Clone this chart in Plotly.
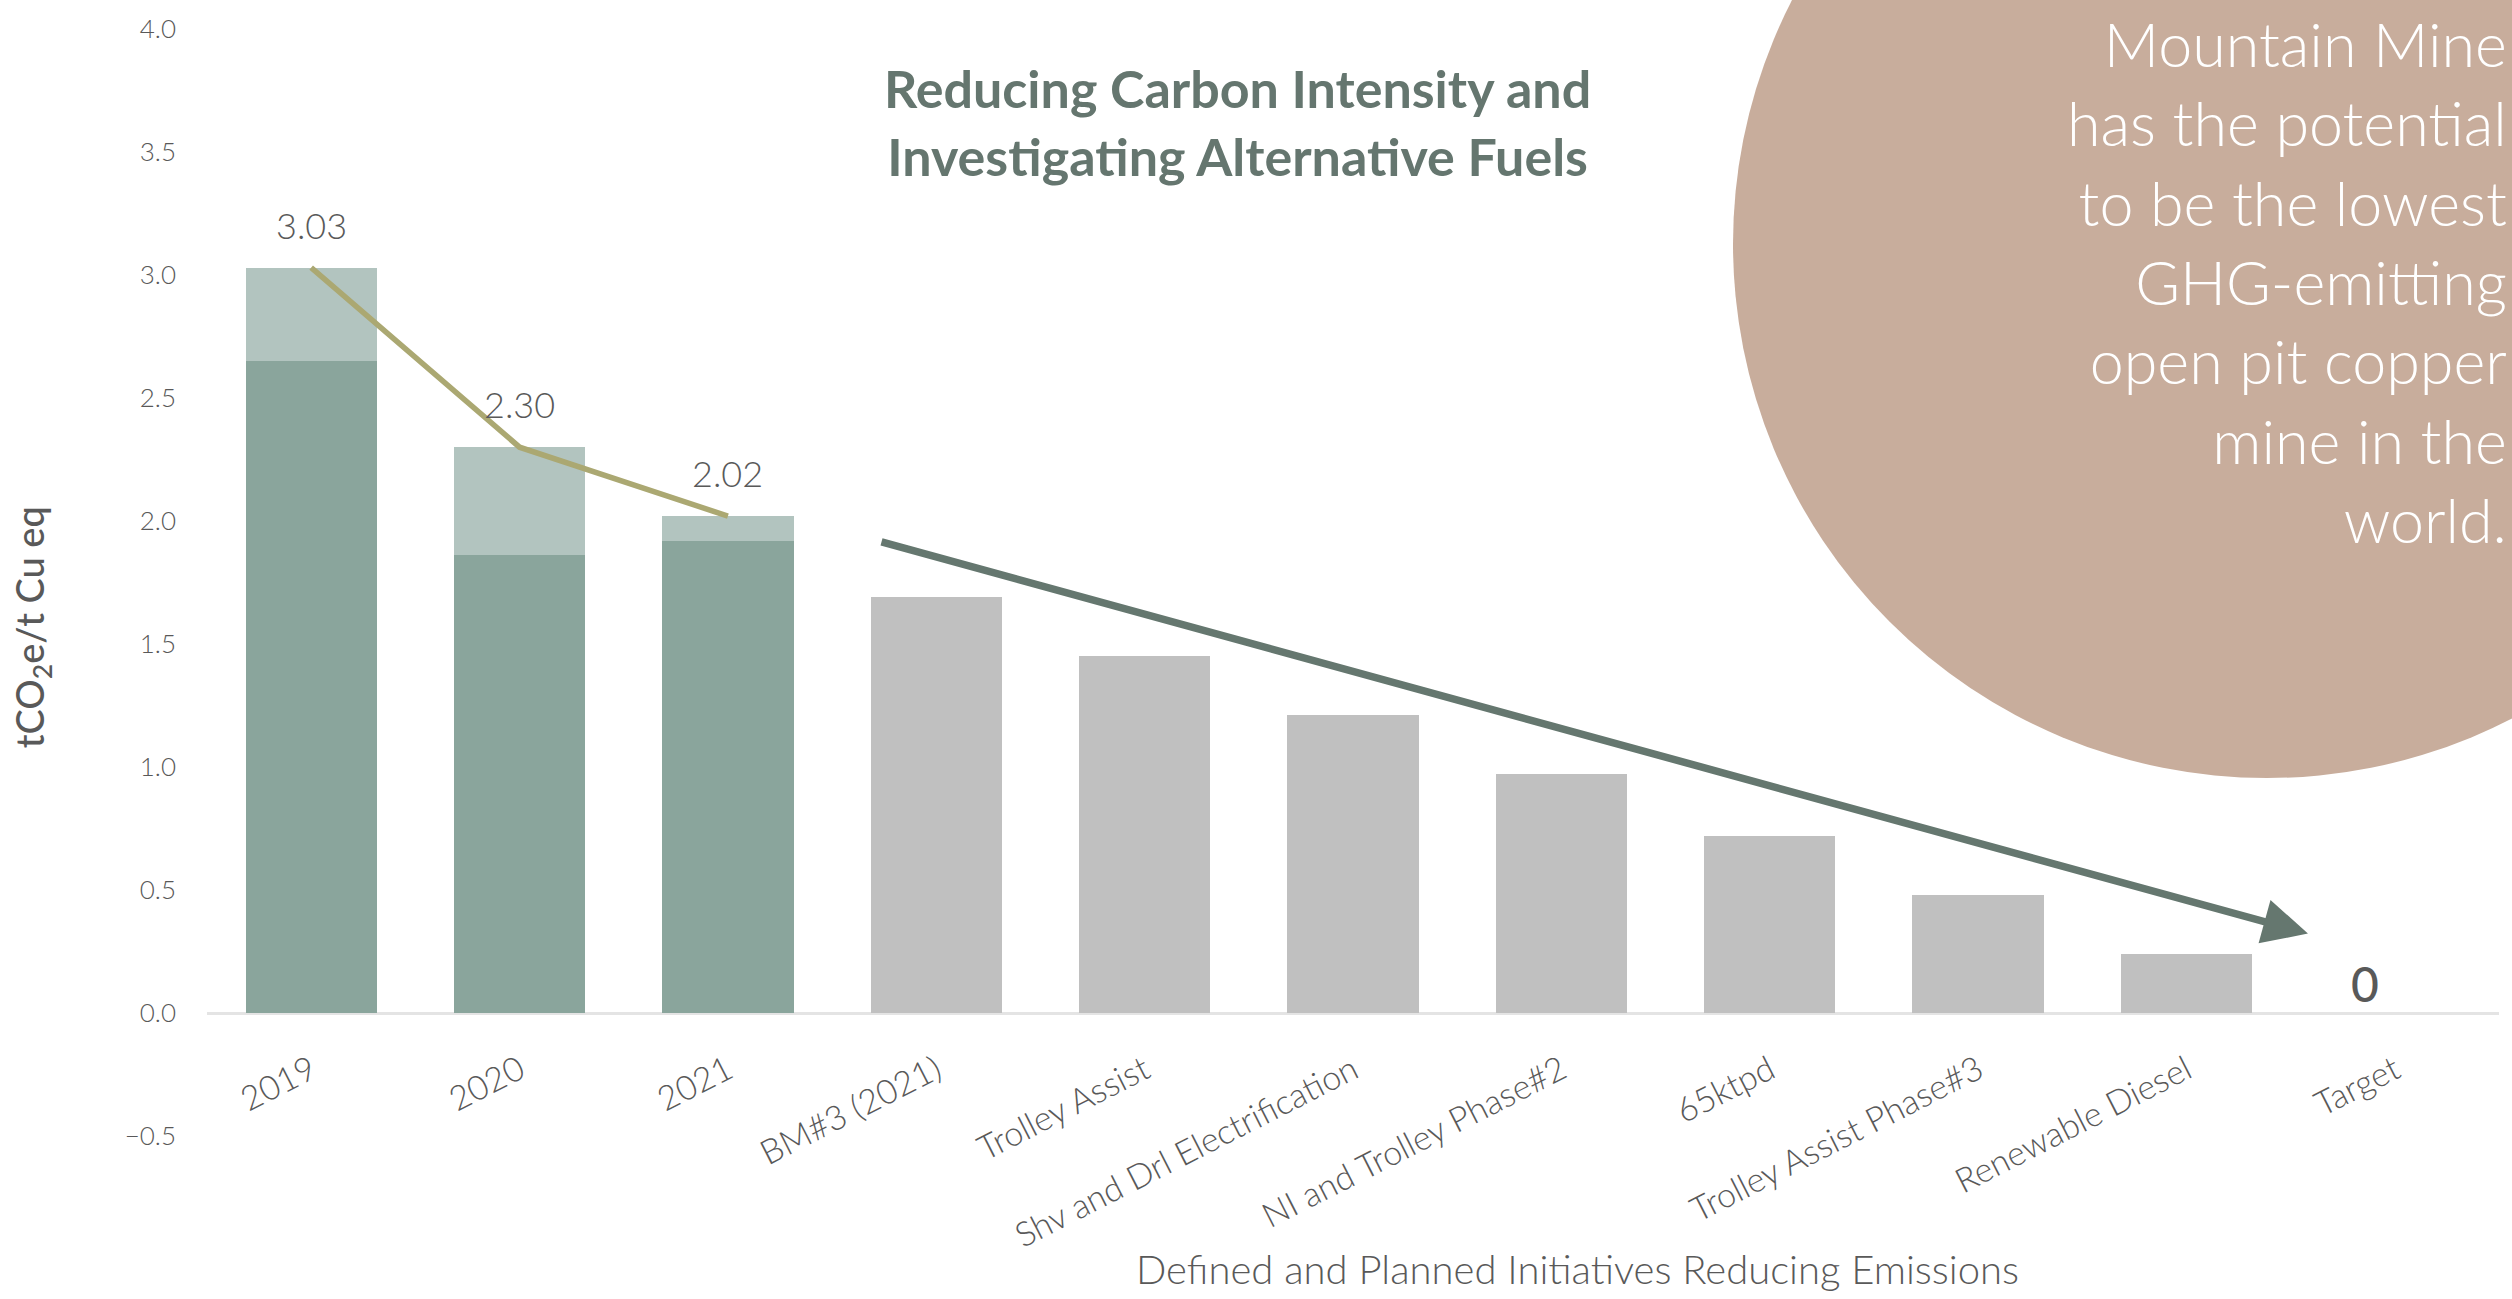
import plotly.graph_objects as go

categories = ["2019", "2020", "2021", "BM#3 (2021)", "Trolley Assist",
              "Shv and Drl Electrification", "NI and Trolley Phase#2", "65ktpd",
              "Trolley Assist Phase#3", "Renewable Diesel", "Target"]
hist_years = ["2019", "2020", "2021"]
hist_base = [2.65, 1.86, 1.92]
hist_total = [3.03, 2.30, 2.02]
hist_top = [round(t - b, 2) for t, b in zip(hist_total, hist_base)]
planned_cats = ["BM#3 (2021)", "Trolley Assist", "Shv and Drl Electrification",
                "NI and Trolley Phase#2", "65ktpd", "Trolley Assist Phase#3",
                "Renewable Diesel", "Target"]
planned_vals = [1.69, 1.45, 1.21, 0.97, 0.72, 0.48, 0.24, 0.0]
y_ticks = [-0.5, 0.0, 0.5, 1.0, 1.5, 2.0, 2.5, 3.0, 3.5, 4.0]
callout_lines = ["Mountain Mine", "has the potential", "to be the lowest",
                 "GHG-emitting", "open pit copper", "mine in the", "world."]

FONT = "Lato"
GREY_TXT = "#595959"

fig = go.Figure()
fig.add_trace(go.Bar(x=hist_years, y=hist_base, marker_color="#8AA59C",
                     marker_line_width=0, showlegend=False))
fig.add_trace(go.Bar(x=hist_years, y=hist_top, marker_color="#B2C4BF",
                     marker_line_width=0, showlegend=False))
fig.add_trace(go.Bar(x=planned_cats, y=planned_vals, marker_color="#C0C0C0",
                     marker_line_width=0, showlegend=False))
fig.add_trace(go.Scatter(x=hist_years, y=hist_total, mode="lines",
                         line=dict(color="#ABA872", width=5.5), showlegend=False))

# value labels (category index positions)
for c, v in zip(hist_years, hist_total):
    fig.add_annotation(x=categories.index(c), y=v, text=f"{v:.2f}", showarrow=False,
                       yshift=43,
                       font=dict(family=FONT, size=36, color=GREY_TXT, weight=300))
fig.add_annotation(x=categories.index(planned_cats[-1]), y=planned_vals[-1],
                   text=f"{planned_vals[-1]:.0f}", showarrow=False, xshift=-30, yshift=30,
                   font=dict(family=FONT, size=48, color=GREY_TXT, weight=500))

# trend arrow
fig.add_annotation(x=9.583, y=0.323, ax=2.73, ay=1.917, axref="x", ayref="y",
                   xref="x", yref="y", text="", showarrow=True, arrowhead=2,
                   arrowsize=1.2, arrowwidth=7.5, arrowcolor="#65776F", standoff=0)

L, R, T, B = 207, 13, 24, 163
W, H = 2512, 1299
pw, ph = W - L - R, H - T - B

def px(xp):
    return (xp - L) / pw

def py(yp):
    return (H - B - yp) / ph

# circle callout
fig.add_shape(type="circle", xref="paper", yref="paper", xsizemode="pixel",
              ysizemode="pixel", xanchor=px(2267), yanchor=py(240),
              x0=-534, x1=534, y0=-534, y1=534,
              fillcolor="#C8AD9C", line_width=0, layer="below")
fig.add_annotation(xref="paper", yref="paper", x=px(2509), y=py(0),
                   xanchor="right", yanchor="top", align="right",
                   text="<br>".join(callout_lines), showarrow=False,
                   font=dict(family=FONT, size=61, color="white", weight=300))

# title
fig.add_annotation(xref="paper", yref="paper", x=px(1237), y=py(117),
                   xanchor="center", yanchor="middle", align="center",
                   text="Reducing Carbon Intensity and<br>Investigating Alternative Fuels",
                   showarrow=False,
                   font=dict(family=FONT, size=52, color="#65766F", weight=700))

# axis titles
fig.add_annotation(xref="paper", yref="paper", x=px(1577), y=py(1270),
                   xanchor="center", yanchor="middle",
                   text="Defined and Planned Initiatives Reducing Emissions",
                   showarrow=False, font=dict(family=FONT, size=40, color=GREY_TXT, weight=300))
fig.add_annotation(xref="paper", yref="paper", x=px(32), y=py(625),
                   xanchor="center", yanchor="middle", textangle=-90,
                   text="tCO<sub>2</sub>e/t Cu eq",
                   showarrow=False, font=dict(family=FONT, size=38, color=GREY_TXT, weight=500))

fig.update_layout(
    width=W, height=H, margin=dict(l=L, r=R, t=T, b=B),
    barmode="stack", bargap=0.37,
    plot_bgcolor="white", paper_bgcolor="white",
    xaxis=dict(type="category", categoryorder="array", categoryarray=categories,
               range=[-0.5, 10.5], anchor="free", position=0.5 / 4.5,
               showline=False, showgrid=False, zeroline=False, ticks="",
               tickangle=-27, ticklabelstandoff=30,
               tickfont=dict(family=FONT, size=34, color=GREY_TXT, weight=300)),
    yaxis=dict(range=[-0.5, 4.0], tickvals=y_ticks, tickformat=".1f",
               showgrid=False, showline=False, zeroline=True,
               zerolinecolor="#E4E4E4", zerolinewidth=3, ticks="",
               ticklabelstandoff=30,
               tickfont=dict(family=FONT, size=26, color=GREY_TXT, weight=300)),
)

fig.write_html("out.html")
